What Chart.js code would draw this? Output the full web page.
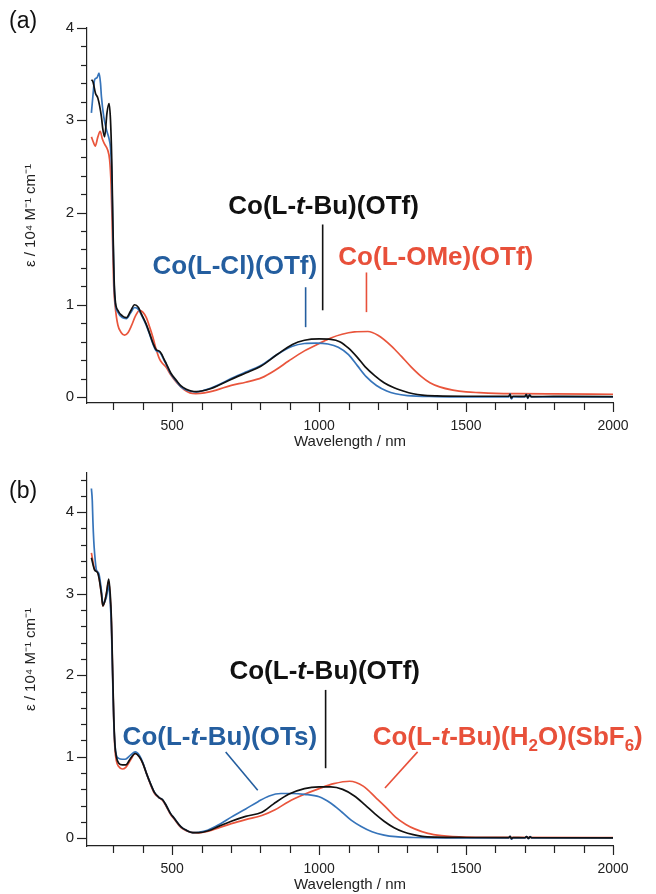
<!DOCTYPE html>
<html><head><meta charset="utf-8">
<script src="https://cdn.jsdelivr.net/npm/chart.js@4.4.1/dist/chart.umd.min.js"></script>
<style>
html,body{margin:0;padding:0;background:#fff;}
#wrap{position:relative;width:656px;height:894px;overflow:hidden;background:#fff;}
canvas{position:absolute;left:0;}
#ca{top:0;} #cb{top:451px;}
</style></head>
<body><div id="wrap"><canvas id="ca" width="656" height="451"></canvas><canvas id="cb" width="656" height="443"></canvas></div>
<script>
// ---------------- DATA ----------------
const X_TICKS = [500, 1000, 1500, 2000];
const Y_TICKS_A = [0, 1, 2, 3, 4];
const Y_TICKS_B = [0, 1, 2, 3, 4];
const X_LABEL = 'Wavelength / nm';
const Y_LABEL = 'ε / 10⁴ M⁻¹ cm⁻¹';

// Panel (a)
const A_BLACK_NAME = 'Co(L-t-Bu)(OTf)';
const A_BLACK_X = [225,230,239,247,259,264,270,278,285,290,294,298,302,306,315,330,344,358,372,385,395,410,423,435,446,455,463,472,480,495,514,530,548,565,582,600,630,660,700,750,800,857,909,950,1000,1040,1070,1100,1130,1156,1190,1221,1255,1286,1320,1351,1400,1500,1600,1645,1650,1653,1660,1700,1705,1710,1716,1722,1800,2000];
const A_BLACK_Y = [3.44,3.42,3.29,3.24,3.04,2.90,2.82,3.08,3.18,3.0,2.6,1.9,1.3,1.05,0.94,0.88,0.86,0.93,1.0,0.97,0.9,0.8,0.69,0.58,0.51,0.5,0.47,0.41,0.36,0.26,0.18,0.12,0.085,0.065,0.058,0.065,0.09,0.13,0.19,0.26,0.33,0.46,0.57,0.615,0.63,0.625,0.6,0.53,0.43,0.33,0.23,0.155,0.1,0.065,0.035,0.02,0.012,0.008,0.008,0.008,0.03,-0.01,0.008,0.006,0.025,-0.01,0.02,0.005,0.006,0.005];

const A_BLUE_NAME = 'Co(L-Cl)(OTf)';
const A_BLUE_X = [225,230,236,244,251,256,259,267,276,285,290,294,298,302,306,315,330,344,358,372,385,395,410,423,435,446,455,463,472,480,495,514,530,548,565,582,600,630,660,700,750,800,857,909,950,990,1030,1065,1100,1130,1160,1195,1230,1260,1300,1400,1600,1645,1650,1654,1660,1700,1705,1710,1716,1722,2000];
const A_BLUE_Y = [3.08,3.26,3.44,3.46,3.51,3.4,3.26,3.04,2.9,2.8,2.7,2.45,1.8,1.25,1.02,0.92,0.86,0.85,0.91,0.97,0.95,0.89,0.79,0.68,0.57,0.5,0.49,0.46,0.4,0.35,0.25,0.17,0.11,0.075,0.06,0.055,0.065,0.095,0.135,0.2,0.27,0.34,0.46,0.55,0.58,0.585,0.575,0.54,0.46,0.34,0.22,0.125,0.065,0.035,0.015,0.005,0.0,0.0,0.035,-0.02,0.0,0.0,0.03,-0.015,0.025,0.0,0.0];

const A_RED_NAME = 'Co(L-OMe)(OTf)';
const A_RED_X = [225,232,238,247,255,262,270,280,287,292,297,301,306,315,326,338,350,361,375,389,400,412,423,434,445,457,468,480,495,514,540,560,580,610,650,701,750,805,850,896,950,1000,1040,1078,1120,1166,1200,1247,1280,1312,1345,1377,1410,1455,1500,1545,1600,1675,1800,2000];
const A_RED_Y = [2.82,2.76,2.72,2.82,2.88,2.8,2.74,2.68,2.57,2.3,1.7,1.2,0.98,0.78,0.7,0.67,0.7,0.77,0.88,0.94,0.92,0.86,0.76,0.65,0.52,0.41,0.36,0.32,0.24,0.16,0.08,0.045,0.037,0.045,0.075,0.126,0.16,0.21,0.29,0.39,0.5,0.58,0.64,0.68,0.705,0.71,0.67,0.55,0.44,0.33,0.23,0.155,0.11,0.075,0.055,0.047,0.04,0.036,0.033,0.03];

// Panel (b)
const B_BLACK_NAME = 'Co(L-t-Bu)(OTf)';
const B_BLACK_X = [225,236,247,259,264,270,276,284,289,293,297,301,305,310,318,330,342,358,374,388,400,412,425,440,455,468,480,495,506,530,550,570,590,620,660,701,750,805,844,896,950,1000,1040,1080,1120,1156,1190,1221,1255,1286,1320,1351,1400,1500,1645,1650,1654,1660,1700,1706,1712,1718,1724,2000];
const B_BLACK_Y = [3.44,3.29,3.25,3.0,2.85,2.9,3.0,3.18,3.0,2.7,2.1,1.5,1.15,1.0,0.92,0.9,0.9,0.98,1.04,1.0,0.92,0.8,0.68,0.56,0.5,0.47,0.4,0.3,0.25,0.14,0.095,0.07,0.07,0.09,0.15,0.21,0.27,0.32,0.42,0.54,0.61,0.63,0.63,0.6,0.52,0.41,0.3,0.21,0.13,0.08,0.045,0.025,0.015,0.01,0.008,0.025,-0.005,0.008,0.007,0.02,0.0,0.018,0.007,0.006];

const B_BLUE_NAME = 'Co(L-t-Bu)(OTs)';
const B_BLUE_X = [225,228,230,233,236,242,250,259,264,270,276,284,289,293,297,301,305,310,318,330,340,358,374,388,400,412,425,440,455,468,480,495,506,530,550,570,590,620,660,701,750,792,830,870,910,950,1000,1040,1078,1110,1143,1180,1221,1260,1320,1400,1645,1650,1654,1660,1700,1706,1712,1718,1724,2000];
const B_BLUE_Y = [4.29,4.14,3.9,3.65,3.49,3.29,3.25,3.04,2.88,2.9,2.96,3.1,2.9,2.6,2.0,1.45,1.15,1.02,0.98,0.97,0.97,1.02,1.06,1.02,0.93,0.8,0.68,0.56,0.5,0.47,0.4,0.3,0.25,0.14,0.095,0.07,0.075,0.1,0.17,0.26,0.36,0.45,0.52,0.55,0.55,0.54,0.51,0.43,0.32,0.22,0.145,0.08,0.04,0.02,0.01,0.005,0.005,0.025,-0.01,0.005,0.005,0.02,-0.005,0.02,0.005,0.005];

const B_RED_NAME = 'Co(L-t-Bu)(H2O)(SbF6)';
const B_RED_X = [225,236,247,259,264,270,276,284,289,293,297,301,305,310,318,330,342,358,374,388,400,412,425,440,455,468,480,495,506,530,550,570,590,620,660,701,750,805,850,896,950,1000,1050,1104,1150,1195,1230,1260,1295,1325,1370,1416,1500,1600,2000];
const B_RED_Y = [3.5,3.3,3.26,3.0,2.85,2.9,3.0,3.15,2.95,2.65,2.05,1.45,1.1,0.95,0.88,0.85,0.87,0.96,1.04,1.0,0.92,0.8,0.67,0.55,0.5,0.46,0.39,0.29,0.24,0.13,0.09,0.07,0.068,0.085,0.13,0.18,0.23,0.28,0.35,0.45,0.54,0.61,0.67,0.70,0.64,0.49,0.37,0.26,0.17,0.116,0.06,0.033,0.015,0.012,0.01];

// ---------------- STYLE / DRAWING ----------------
const FONT = '"Liberation Sans", Arial, Helvetica, sans-serif';
const C_BLACK = '#111111', C_BLUE = '#3674ba', C_RED = '#e9553c';
const T_BLUE = '#245e9f', T_RED = '#e8503a';

function pts(xs, ys) { return xs.map((x, i) => ({x: x, y: ys[i]})); }

// rich text segments: [text, style] style: 'i' italic, 's' subscript
function segFont(s, size) {
  const sz = s[1] === 's' ? Math.round(size * 0.66) : size;
  return (s[1] === 'i' ? 'italic ' : '') + 'bold ' + sz + 'px ' + FONT;
}
function drawRich(ctx, segs, x, y, size, color, align) {
  let w = 0;
  for (const s of segs) { ctx.font = segFont(s, size); w += ctx.measureText(s[0]).width; }
  let cx = align === 'left' ? x : x - w / 2;
  ctx.textAlign = 'left'; ctx.textBaseline = 'middle'; ctx.fillStyle = color;
  for (const s of segs) {
    ctx.font = segFont(s, size);
    ctx.fillText(s[0], cx, y + (s[1] === 's' ? size * 0.3 : 0));
    cx += ctx.measureText(s[0]).width;
  }
}

const extras = {
  id: 'extras',
  afterDraw(chart, args, o) {
    const ctx = chart.ctx, xs = chart.scales.x, ys = chart.scales.y, a = chart.chartArea;
    ctx.save();
    ctx.strokeStyle = '#222'; ctx.lineWidth = 1.2; ctx.lineCap = 'butt';
    // x ticks every 100 nm
    for (let v = 300; v <= 2000; v += 100) {
      const px = Math.round(xs.getPixelForValue(v)) + 0.5;
      const len = (v % 500 === 0) ? 9 : 7;
      ctx.beginPath(); ctx.moveTo(px, a.bottom); ctx.lineTo(px, a.bottom + len); ctx.stroke();
    }
    // y ticks every 0.2
    for (let k = 0; k * 0.2 <= o.yTop + 1e-9; k++) {
      const v = k * 0.2;
      const py = Math.round(ys.getPixelForValue(v)) + 0.5;
      const len = (k % 5 === 0) ? 10 : 6;
      ctx.beginPath(); ctx.moveTo(a.left, py); ctx.lineTo(a.left - len, py); ctx.stroke();
    }
    // annotation leader lines
    ctx.lineWidth = 1.6;
    for (const L of o.lines) {
      ctx.strokeStyle = L.color;
      ctx.beginPath();
      ctx.moveTo(xs.getPixelForValue(L.x1), ys.getPixelForValue(L.y1));
      ctx.lineTo(xs.getPixelForValue(L.x2), ys.getPixelForValue(L.y2));
      ctx.stroke();
    }
    // annotation labels
    for (const T of o.labels) {
      drawRich(ctx, T.segs, xs.getPixelForValue(T.x), ys.getPixelForValue(T.y), 26, T.color, T.align);
    }
    // panel letter
    ctx.font = '23px ' + FONT; ctx.fillStyle = '#111'; ctx.textAlign = 'left'; ctx.textBaseline = 'middle';
    ctx.fillText(o.panel, 9, o.panelY);
    ctx.restore();
  }
};

function makeChart(id, datasets, cfg) {
  return new Chart(document.getElementById(id), {
    type: 'line',
    data: {datasets: datasets},
    options: {
      responsive: false, animation: false, devicePixelRatio: 1,
      layout: {padding: {left: 18, right: 43, top: cfg.top, bottom: 0}},
      elements: {point: {radius: 0, hoverRadius: 0}, line: {borderWidth: 1.7, cubicInterpolationMode: 'monotone'}},
      plugins: {
        legend: {display: false}, tooltip: {enabled: false},
        extras: {yTop: cfg.yTop, lines: cfg.lines, labels: cfg.labels, panel: cfg.panel, panelY: cfg.panelY}
      },
      scales: {
        x: {
          type: 'linear', min: 210, max: 2000,
          grid: {display: false, drawTicks: false},
          border: {display: true, color: '#222', width: 1.2},
          ticks: {font: {family: FONT, size: 14}, color: '#222', padding: 15, maxRotation: 0, autoSkip: false,
                  callback: v => String(v)},
          afterBuildTicks: s => { s.ticks = X_TICKS.map(v => ({value: v})); },
          title: {display: true, text: X_LABEL, font: {family: FONT, size: 15}, color: '#222', padding: {top: 0, bottom: 0}},
          afterFit: s => { s.height = 48; }
        },
        y: {
          type: 'linear', min: cfg.ymin, max: cfg.ymax,
          grid: {display: false, drawTicks: false},
          border: {display: true, color: '#222', width: 1.2},
          ticks: {font: {family: FONT, size: 15}, color: '#222', padding: 13, callback: v => String(v)},
          afterBuildTicks: s => { s.ticks = cfg.yticks.map(v => ({value: v})); },
          title: {display: true, text: Y_LABEL, font: {family: FONT, size: 15}, color: '#222', padding: {top: 4, bottom: 4}},
          afterFit: s => { s.width = 69; }
        }
      }
    },
    plugins: [extras]
  });
}

const segTBu = (tail) => [['Co(L-', ''], ['t', 'i'], ['-Bu)' + tail, '']];

makeChart('ca', [
  {label: A_BLACK_NAME, data: pts(A_BLACK_X, A_BLACK_Y), borderColor: C_BLACK},
  {label: A_BLUE_NAME, data: pts(A_BLUE_X, A_BLUE_Y), borderColor: C_BLUE},
  {label: A_RED_NAME, data: pts(A_RED_X, A_RED_Y), borderColor: C_RED}
], {
  top: 28, ymin: -0.065, ymax: 4, yTop: 4, yticks: Y_TICKS_A, panel: '(a)', panelY: 22,
  lines: [
    {x1: 1012, y1: 1.87, x2: 1012, y2: 0.94, color: C_BLACK},
    {x1: 954, y1: 1.19, x2: 954, y2: 0.757, color: T_BLUE},
    {x1: 1161, y1: 1.35, x2: 1161, y2: 0.92, color: T_RED}
  ],
  labels: [
    {segs: segTBu('(OTf)'), x: 1015, y: 2.06, color: C_BLACK, align: 'center'},
    {segs: [['Co(L-Cl)(OTf)', '']], x: 713, y: 1.41, color: T_BLUE, align: 'center'},
    {segs: [['Co(L-OMe)(OTf)', '']], x: 1397, y: 1.51, color: T_RED, align: 'center'}
  ]
});

makeChart('cb', [
  {label: B_BLACK_NAME, data: pts(B_BLACK_X, B_BLACK_Y), borderColor: C_BLACK},
  {label: B_BLUE_NAME, data: pts(B_BLUE_X, B_BLUE_Y), borderColor: C_BLUE},
  {label: B_RED_NAME, data: pts(B_RED_X, B_RED_Y), borderColor: C_RED}
], {
  top: 21, ymin: -0.094, ymax: 4.48, yTop: 4.4, yticks: Y_TICKS_B, panel: '(b)', panelY: 41,
  lines: [
    {x1: 1022, y1: 1.82, x2: 1022, y2: 0.86, color: C_BLACK},
    {x1: 682, y1: 1.06, x2: 791, y2: 0.59, color: T_BLUE},
    {x1: 1335, y1: 1.06, x2: 1224, y2: 0.617, color: T_RED}
  ],
  labels: [
    {segs: segTBu('(OTf)'), x: 1019, y: 2.04, color: C_BLACK, align: 'center'},
    {segs: segTBu('(OTs)'), x: 662, y: 1.23, color: T_BLUE, align: 'center'},
    {segs: [['Co(L-', ''], ['t', 'i'], ['-Bu)(H', ''], ['2', 's'], ['O)(SbF', ''], ['6', 's'], [')', '']], x: 1182, y: 1.23, color: T_RED, align: 'left'}
  ]
});
</script>
</body></html>
